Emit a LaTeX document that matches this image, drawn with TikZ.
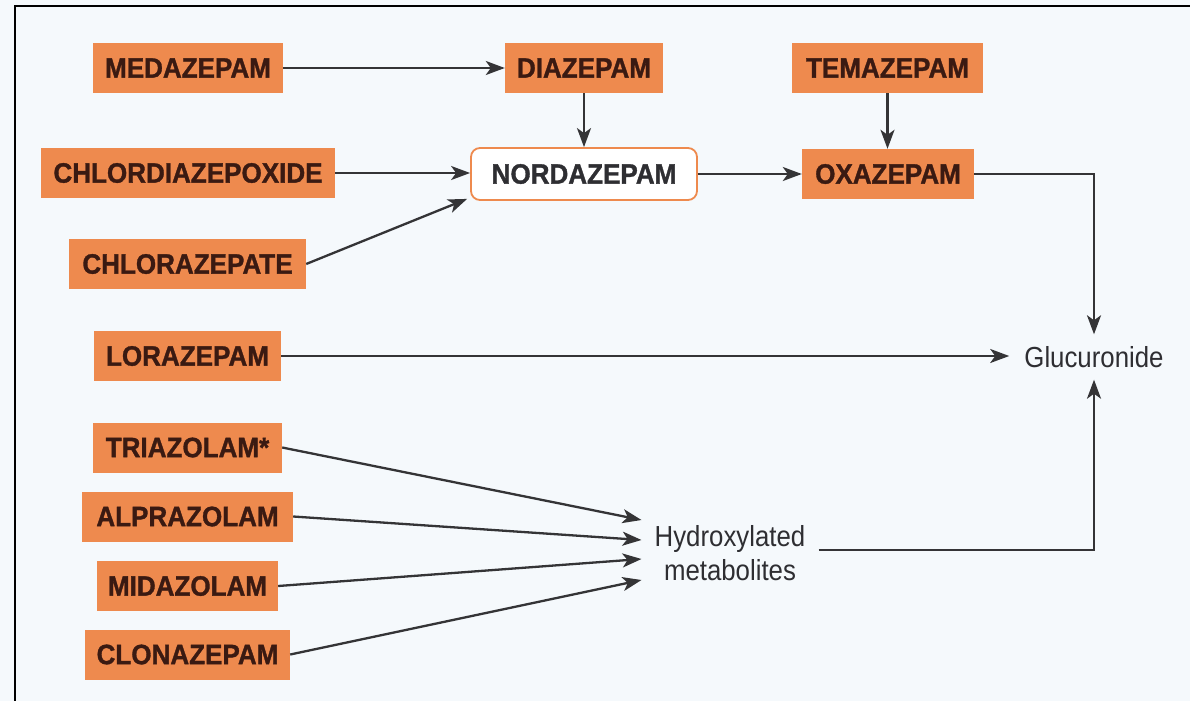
\documentclass[tikz,border=0pt]{standalone}
\usepackage{fontspec}
\setmainfont{Liberation Sans}
\newfontfamily\boxfont[FakeStretch=0.93,BoldFeatures={FakeBold=1.2}]{Liberation Sans}
\newfontfamily\txtfont[FakeStretch=0.89]{Liberation Sans}
\usetikzlibrary{arrows.meta}
\definecolor{bgc}{HTML}{F5F9FC}
\definecolor{orng}{HTML}{EE8A4E}
\definecolor{txtb}{HTML}{3A1A12}
\definecolor{lnc}{HTML}{343436}
\definecolor{txtg}{HTML}{2E2E32}
\begin{document}
\begin{tikzpicture}[x=1pt,y=-1pt,
  drug/.style={fill=orng, text=txtb, font=\boxfont\bfseries\fontsize{28}{30}\selectfont,
    minimum height=50pt, inner sep=0pt},
  conn/.style={draw=lnc, line width=2.3pt, -{Stealth[length=19pt,width=14pt,inset=5pt]}},
  plain/.style={text=txtg, font=\txtfont\fontsize{29}{34}\selectfont, align=center}]
\fill[bgc] (0,0) rectangle (1190,701);
\useasboundingbox (0,0) rectangle (1190,701);
\draw[line width=2pt] (1190,6) -- (15,6) -- (15,701);

% left column
\node[drug, minimum width=190pt] (med) at (188,68) {MEDAZEPAM};
\node[drug, minimum width=294pt] (chl) at (188,173) {CHLORDIAZEPOXIDE};
\node[drug, minimum width=237pt] (cla) at (187.5,264) {CHLORAZEPATE};
\node[drug, minimum width=187pt] (lor) at (187.5,356) {LORAZEPAM};
\node[drug, minimum width=189pt] (tri) at (187.5,447.5) {TRIAZOLAM*};
\node[drug, minimum width=211pt] (alp) at (187.5,516.5) {ALPRAZOLAM};
\node[drug, minimum width=181pt] (mid) at (187.5,586) {MIDAZOLAM};
\node[drug, minimum width=205pt] (clo) at (187.5,654.5) {CLONAZEPAM};

% middle / right
\node[drug, minimum width=158pt] (dia) at (584,68) {DIAZEPAM};
\node[drug, minimum width=191pt] (tem) at (887.5,68) {TEMAZEPAM};
\node[drug, minimum width=172pt] (oxa) at (888,174) {OXAZEPAM};
\node[draw=orng, fill=white, line width=1.8pt, rounded corners=9pt, text=txtg,
  font=\boxfont\bfseries\fontsize{28}{30}\selectfont, inner sep=0pt,
  minimum width=226pt, minimum height=52pt] (nor) at (584,174) {NORDAZEPAM};

\node[plain, inner xsep=15pt, inner ysep=0pt, minimum height=45pt] (glu) at (1094,357) {Glucuronide};
\node[plain, inner xsep=13pt, inner ysep=0pt] (hyd) at (730,553) {Hydroxylated\\metabolites};

% connectors
\draw[conn] (med) -- (dia);
\draw[conn] (dia) -- (nor);
\draw[conn] (tem.south) -- (tem.south |- oxa.north);
\draw[conn] (chl.east) -- (chl.east -| nor.west);
\draw[conn] (cla.east) -- ([xshift=-3pt,yshift=2pt]nor.south west);
\draw[conn] (nor) -- (oxa);
\draw[conn] (oxa.east) -| (glu.north);
\draw[conn] (lor.east) -- (lor.east -| glu.west);
\draw[conn] ([yshift=3pt]hyd.east) -| (glu.south);
\draw[conn] (tri.east) -- ([yshift=33pt]hyd.west);
\draw[conn] (alp.east) -- ([yshift=13pt]hyd.west);
\draw[conn] (mid.east) -- ([yshift=-6pt]hyd.west);
\draw[conn] (clo.east) -- ([yshift=-27pt]hyd.west);
\end{tikzpicture}
\end{document}
